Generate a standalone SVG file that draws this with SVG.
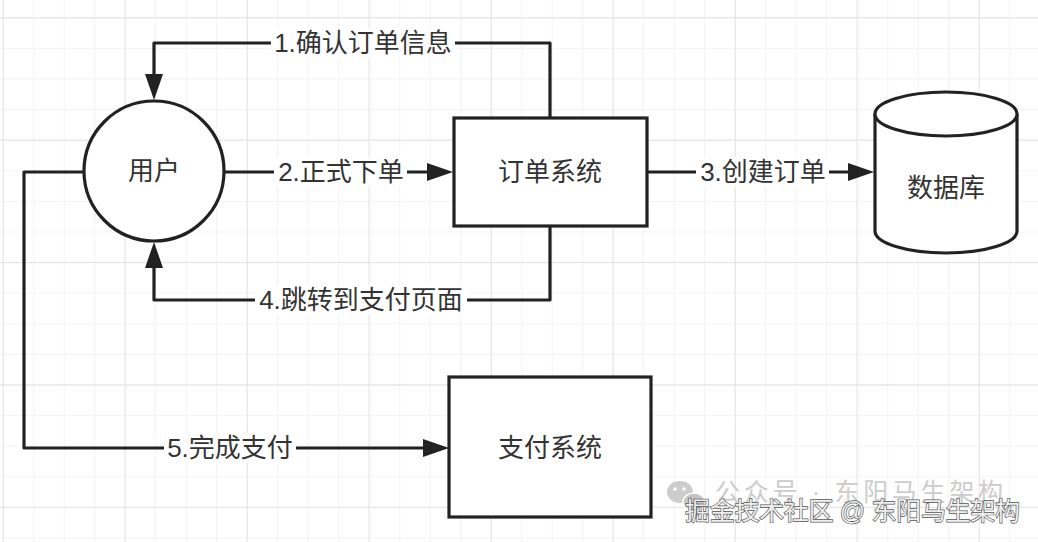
<svg xmlns="http://www.w3.org/2000/svg" width="1038" height="542" viewBox="0 0 1038 542">
<style>
.node{fill:#ffffff;stroke:#222222;stroke-width:3.2}
.edge{fill:none;stroke:#222222;stroke-width:3.2;stroke-linejoin:round}
.lbl{font-family:"Liberation Sans","Noto Sans CJK SC",sans-serif;font-size:26px;fill:#333333;text-anchor:middle;dominant-baseline:central}
.bg{fill:#ffffff}
.wm1{font-family:"Liberation Sans","Noto Sans CJK SC",sans-serif;font-size:25px;fill:#cccccc}
.wm2{font-family:"Liberation Sans","Noto Sans CJK SC",sans-serif;font-size:25px;fill:#eeeeee;stroke:#555555;stroke-width:1.3px;paint-order:stroke}
</style>
<defs>
<pattern id="minor" width="30.5" height="30.6" patternUnits="userSpaceOnUse" x="2.7" y="17.3">
<path d="M0,0 H30.5 M0,0 V30.6" fill="none" stroke="#efefef" stroke-width="1.5"/>
</pattern>
<pattern id="major" width="122" height="122.4" patternUnits="userSpaceOnUse" x="2.7" y="17.3">
<path d="M0,0 H122 M0,0 V122.4" fill="none" stroke="#e2e2e2" stroke-width="1.8"/>
</pattern>
<marker id="arrow" viewBox="0 0 26 18" refX="16" refY="9" markerWidth="26" markerHeight="18" markerUnits="userSpaceOnUse" orient="auto">
<path d="M0,0 L26,9 L0,18 Z" fill="#222222"/>
</marker>
</defs>
<rect width="1038" height="542" fill="#ffffff"/>
<rect width="1038" height="542" fill="url(#minor)"/>
<rect width="1038" height="542" fill="url(#major)"/>

<g id="connectors">
<path class="edge" d="M550,118 V43 H154 V90" marker-end="url(#arrow)"/>
<path class="edge" d="M225,172 H443" marker-end="url(#arrow)"/>
<path class="edge" d="M647,172 H864" marker-end="url(#arrow)"/>
<path class="edge" d="M550,226 V300 H154 V252" marker-end="url(#arrow)"/>
<path class="edge" d="M84,172 H24 V448 H439" marker-end="url(#arrow)"/>
<rect class="bg" x="271" y="28" width="184" height="30"/>
<text class="lbl" x="363" y="43">1.确认订单信息</text>
<rect class="bg" x="274" y="157" width="133" height="30"/>
<text class="lbl" x="341" y="172">2.正式下单</text>
<rect class="bg" x="696" y="157" width="133" height="30"/>
<text class="lbl" x="763" y="172">3.创建订单</text>
<rect class="bg" x="255" y="285" width="212" height="30"/>
<text class="lbl" x="361" y="300">4.跳转到支付页面</text>
<rect class="bg" x="164" y="433" width="132" height="30"/>
<text class="lbl" x="230" y="448">5.完成支付</text>
</g>

<g id="user">
<circle class="node" cx="154" cy="171" r="70"/>
<text class="lbl" x="154" y="171">用户</text>
</g>

<g id="order-system">
<rect class="node" x="454" y="118" width="193" height="108"/>
<text class="lbl" x="550" y="172">订单系统</text>
</g>

<g id="database">
<path class="node" d="M875,114 A71,22 0 0 1 1017,114 V231 A71,22 0 0 1 875,231 Z"/>
<path class="node" fill="none" d="M875,114 A71,22 0 0 0 1017,114"/>
<text class="lbl" x="946" y="188">数据库</text>
</g>

<g id="payment-system">
<rect class="node" x="449" y="377" width="202" height="140"/>
<text class="lbl" x="550" y="448">支付系统</text>
</g>

<g id="watermark">
<ellipse cx="680" cy="492" rx="13" ry="11" fill="#cccccc"/>
<ellipse cx="694" cy="502" rx="11" ry="9" fill="#c4c4c4" stroke="#ffffff" stroke-width="1.5"/>
<circle cx="675" cy="489" r="1.8" fill="#ffffff"/>
<circle cx="684" cy="489" r="1.8" fill="#ffffff"/>
<text class="wm1" x="715" y="501" textLength="288" lengthAdjust="spacing">公众号 · 东阳马生架构</text>
<text class="wm2" x="685" y="520" textLength="335" lengthAdjust="spacing">掘金技术社区 @ 东阳马生架构</text>
</g>
</svg>
